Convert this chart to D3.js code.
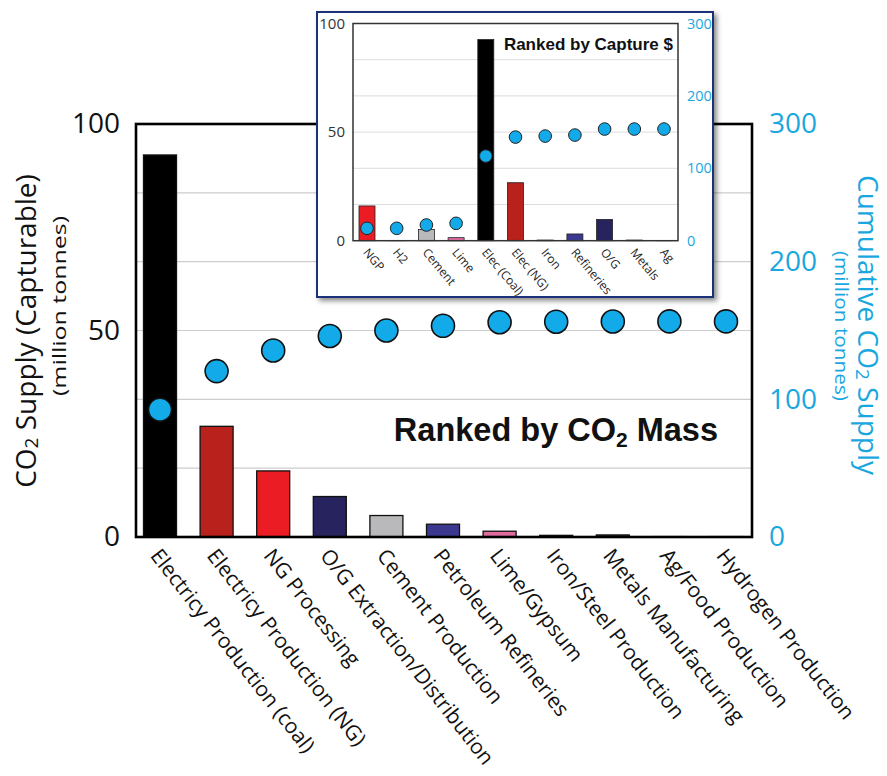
<!DOCTYPE html>
<html><head><meta charset="utf-8">
<script src="https://cdn.jsdelivr.net/npm/d3@7"></script>
<style>body{margin:0;background:#fff}</style>
</head><body>
<svg id="chart" width="887" height="776"></svg>
<script>
// ---------- data ----------
const categories = ["Electricy Production (coal)", "Electricy Production (NG)", "NG Processing", "O/G Extraction/Distribution", "Cement Production", "Petroleum Refineries", "Lime/Gypsum", "Iron/Steel Production", "Metals Manufacturing", "Ag/Food Production", "Hydrogen Production"];
const supply = [92.5, 26.8, 16.0, 9.8, 5.2, 3.1, 1.4, 0.4, 0.5, 0.1, 0.1];
const cumulative = [92.5, 120.5, 135.5, 146.0, 150.0, 153.4, 156.0, 156.4, 156.5, 156.6, 156.6];

const insetCategories = ["NGP", "H2", "Cement", "Lime", "Elec (Coal)", "Elec (NG)", "Iron", "Refineries", "O/G", "Metals", "Ag"];
const insetSupply = [16.0, 0.1, 5.2, 1.4, 92.6, 26.7, 0.3, 3.1, 9.8, 0.3, 0.05];
const insetCumulative = [17.1, 17.1, 21.7, 24.0, 116.9, 143.1, 144.5, 145.9, 154.2, 154.2, 154.2];

const leftTicks = [0, 50, 100];
const rightTicks = [0, 100, 200, 300];
const gridTicks = [50, 100, 150, 200, 250];

// ---------- styles ----------
const barColors = ["#000000", "#b8211c", "#ec1c24", "#27235f", "#b9b9bb", "#3c3890", "#df6b9f", "#555555", "#333333", "#666666", "#666666"];
const insetColors = ["#ec1c24", "#555555", "#b9b9bb", "#df6b9f", "#000000", "#b8211c", "#555555", "#3c3890", "#27235f", "#555555", "#555555"];
const CYAN = "#1aa7e0";
const DOT = "#12aae8";
const FONT = "'Open Sans', 'Noto Sans', sans-serif";
const BOLD = "'Liberation Sans', Arial, sans-serif";

const svg = d3.select("#chart");
svg.append("rect").attr("width", 887).attr("height", 776).attr("fill", "#fff");
const defs = svg.append("defs");
defs.append("filter").attr("id", "sh").attr("x", "-10%").attr("y", "-10%").attr("width", "130%").attr("height", "130%")
  .append("feDropShadow").attr("dx", 3).attr("dy", 3).attr("stdDeviation", 2.5)
  .attr("flood-color", "#000").attr("flood-opacity", 0.45);

// ---------- main chart ----------
const M = {left: 136, right: 752, top: 124, bottom: 537};
const x = d3.scalePoint().domain(categories).range([M.left + 24, M.right - 26]);
const yL = d3.scaleLinear().domain([0, 100]).range([M.bottom, M.top]);
const yR = d3.scaleLinear().domain([0, 300]).range([M.bottom, M.top]);

const main = svg.append("g");
main.append("g").selectAll("line").data(gridTicks).join("line")
  .attr("x1", M.left).attr("x2", M.right)
  .attr("y1", d => yR(d)).attr("y2", d => yR(d))
  .attr("stroke", "#cdcdcd").attr("stroke-width", 1.2);

main.append("g").selectAll("rect").data(categories).join("rect")
  .attr("x", d => x(d) - 16.5).attr("width", 33)
  .attr("y", (d, i) => yL(supply[i]))
  .attr("height", (d, i) => yL(0) - yL(supply[i]))
  .attr("fill", (d, i) => barColors[i])
  .attr("stroke", "#111").attr("stroke-width", 1.3);

main.append("rect").attr("x", M.left).attr("y", M.top)
  .attr("width", M.right - M.left).attr("height", M.bottom - M.top)
  .attr("fill", "none").attr("stroke", "#000").attr("stroke-width", 2.6);

main.append("g").selectAll("circle").data(categories).join("circle")
  .attr("cx", d => x(d)).attr("cy", (d, i) => yR(cumulative[i]))
  .attr("r", 11.5).attr("fill", DOT).attr("stroke", "#111").attr("stroke-width", 1.6);

// axes
const axL = main.append("g").attr("transform", `translate(${M.left},0)`)
  .call(d3.axisLeft(yL).tickValues(leftTicks).tickSize(0).tickPadding(16));
axL.select(".domain").remove();
axL.selectAll("text").attr("font-family", FONT).attr("font-size", 28).attr("fill", "#111");

const axR = main.append("g").attr("transform", `translate(${M.right},0)`)
  .call(d3.axisRight(yR).tickValues(rightTicks).tickSize(0).tickPadding(17));
axR.select(".domain").remove();
axR.selectAll("text").attr("font-family", FONT).attr("font-size", 28).attr("fill", CYAN);

const axB = main.append("g").attr("transform", `translate(0,${M.bottom})`)
  .call(d3.axisBottom(x).tickSize(0));
axB.select(".domain").remove();
axB.selectAll("text")
  .attr("font-family", FONT).attr("font-size", 21).attr("fill", "#111")
  .attr("x", 0).attr("y", 0).attr("dy", 0)
  .attr("text-anchor", "start")
  .attr("transform", "translate(-11,19) rotate(52)");

// titles
const lt = svg.append("text").attr("transform", "translate(36,331) rotate(-90)")
  .attr("text-anchor", "middle").attr("font-family", FONT).attr("font-size", 28).attr("fill", "#111");
lt.append("tspan").text("CO");
lt.append("tspan").text("2").attr("font-size", 19).attr("dy", 2);
lt.append("tspan").text(" Supply (Capturable)").attr("dy", -2);

svg.append("text").attr("transform", "translate(66,306) rotate(-90)")
  .attr("text-anchor", "middle").attr("font-family", FONT).attr("font-size", 19).attr("fill", "#111")
  .attr("textLength", 180).attr("lengthAdjust", "spacingAndGlyphs")
  .text("(million tonnes)");

const rt = svg.append("text").attr("transform", "translate(858,325) rotate(90)")
  .attr("text-anchor", "middle").attr("font-family", FONT).attr("font-size", 28).attr("fill", CYAN);
rt.append("tspan").text("Cumulative CO");
rt.append("tspan").text("2").attr("font-size", 19).attr("dy", 2);
rt.append("tspan").text(" Supply").attr("dy", -2);

svg.append("text").attr("transform", "translate(835,326) rotate(90)")
  .attr("text-anchor", "middle").attr("font-family", FONT).attr("font-size", 18).attr("fill", CYAN)
  .attr("textLength", 150).attr("lengthAdjust", "spacingAndGlyphs")
  .text("(million tonnes)");

const mt = svg.append("text").attr("x", 718).attr("y", 441).attr("text-anchor", "end")
  .attr("font-family", BOLD).attr("font-weight", "bold").attr("font-size", 32.5).attr("fill", "#111");
mt.append("tspan").text("Ranked by CO");
mt.append("tspan").text("2").attr("font-size", 21).attr("dy", 6);
mt.append("tspan").text(" Mass").attr("dy", -6);

// ---------- inset ----------
const inset = svg.append("g");
inset.append("rect").attr("x", 317).attr("y", 12).attr("width", 396).attr("height", 285)
  .attr("fill", "#fff").attr("stroke", "#1d3278").attr("stroke-width", 2).attr("filter", "url(#sh)");

const I = {left: 353, right: 678, top: 23.5, bottom: 240.7};
const xi = d3.scalePoint().domain(insetCategories).range([I.left + 14, I.right - 14]);
const yiL = d3.scaleLinear().domain([0, 100]).range([I.bottom, I.top]);
const yiR = d3.scaleLinear().domain([0, 300]).range([I.bottom, I.top]);

inset.append("g").selectAll("line").data(gridTicks).join("line")
  .attr("x1", I.left).attr("x2", I.right)
  .attr("y1", d => yiR(d)).attr("y2", d => yiR(d))
  .attr("stroke", "#dddddd").attr("stroke-width", 1);

inset.append("g").selectAll("rect").data(insetCategories).join("rect")
  .attr("x", d => xi(d) - 8).attr("width", 16)
  .attr("y", (d, i) => yiL(insetSupply[i]))
  .attr("height", (d, i) => yiL(0) - yiL(insetSupply[i]))
  .attr("fill", (d, i) => insetColors[i])
  .attr("stroke", "#222").attr("stroke-width", 0.8);

inset.append("rect").attr("x", I.left).attr("y", I.top)
  .attr("width", I.right - I.left).attr("height", I.bottom - I.top)
  .attr("fill", "none").attr("stroke", "#333").attr("stroke-width", 1.5);

inset.append("g").selectAll("circle").data(insetCategories).join("circle")
  .attr("cx", d => xi(d)).attr("cy", (d, i) => yiR(insetCumulative[i]))
  .attr("r", 6.3).attr("fill", DOT).attr("stroke", "#222").attr("stroke-width", 1);

const iaL = inset.append("g").attr("transform", `translate(${I.left},0)`)
  .call(d3.axisLeft(yiL).tickValues(leftTicks).tickSize(0).tickPadding(8));
iaL.select(".domain").remove();
iaL.selectAll("text").attr("font-family", FONT).attr("font-size", 15).attr("fill", "#333");

const iaR = inset.append("g").attr("transform", `translate(${I.right},0)`)
  .call(d3.axisRight(yiR).tickValues(rightTicks).tickSize(0).tickPadding(9));
iaR.select(".domain").remove();
iaR.selectAll("text").attr("font-family", FONT).attr("font-size", 14.5).attr("fill", CYAN);

const iaB = inset.append("g").attr("transform", `translate(0,${I.bottom})`)
  .call(d3.axisBottom(xi).tickSize(0));
iaB.select(".domain").remove();
iaB.selectAll("text")
  .attr("font-family", FONT).attr("font-size", 12).attr("fill", "#222")
  .attr("x", 0).attr("y", 0).attr("dy", 0)
  .attr("text-anchor", "start")
  .attr("transform", "translate(-5,12) rotate(50)");

inset.append("text").attr("x", 673).attr("y", 50).attr("text-anchor", "end")
  .attr("font-family", BOLD).attr("font-weight", "bold").attr("font-size", 17).attr("fill", "#111")
  .text("Ranked by Capture $");
</script>
</body></html>
